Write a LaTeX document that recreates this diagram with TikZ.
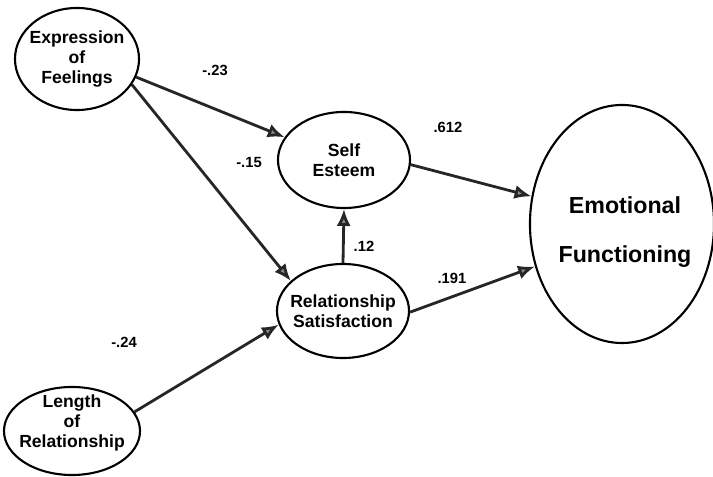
\documentclass[tikz,border=0pt]{standalone}
\usepackage{fontspec}
\setmainfont{Liberation Sans}
\usetikzlibrary{shapes.geometric,arrows.meta}

\begin{document}
\begin{tikzpicture}[x=0.025cm,y=-0.025cm,
        var/.style={ellipse,draw,line width=1.5pt,inner sep=-20pt,align=center,
            font=\bfseries\fontsize{12.5}{14.5}\selectfont},
        link/.style={line width=2pt,draw=black!85,-{Latex[length=12pt,width=10pt,open,fill=black!45]}},
        coef/.style={font=\bfseries\fontsize{10.5}{12}\selectfont}]
        \useasboundingbox (0,0) rectangle (713,477);
        \node at (77,59) [var,minimum width=3.1cm,minimum height=2.55cm] (feel) {Expression\\of\\Feelings};
        \node at (344,160) [var,minimum width=3.3cm,minimum height=2.4cm] (self) {Self\\Esteem};
        \node at (343,311) [var,minimum width=3.3cm,minimum height=2.35cm] (sat) {Relationship\\Satisfaction};
        \node at (72,431) [var,minimum width=3.4cm,minimum height=2.2cm] (len) {};
        \node at (72,423) [align=center,font=\bfseries\fontsize{12.5}{14.5}\selectfont] (lentext) {Length\\of\\Relationship};
        \node at (622,224) [var,minimum width=4.6cm,minimum height=5.95cm] (emo) {};
        \node at (625,232) [align=center,font=\bfseries\fontsize{16.5}{35}\selectfont] (emotext) {Emotional\\Functioning};
        \draw[link] (feel.343) -- (self.159);
        \draw[link] (feel.335) -- (sat.150);
        \draw[link] (sat.north) -- (self.south);
        \draw[link] (len.17) -- (sat.192);
        \draw[link] (self.356) -- (emo.163);
        \draw[link] (sat.359) -- (emo.206);
        \node at (215,70) [coef] (c1) {-.23};
        \node at (249,162) [coef] (c2) {-.15};
        \node at (364,246) [coef] (c3) {.12};
        \node at (124,342) [coef] (c4) {-.24};
        \node at (448,127) [coef] (c5) {.612};
        \node at (452,278) [coef] (c6) {.191};
\end{tikzpicture}
\end{document}
